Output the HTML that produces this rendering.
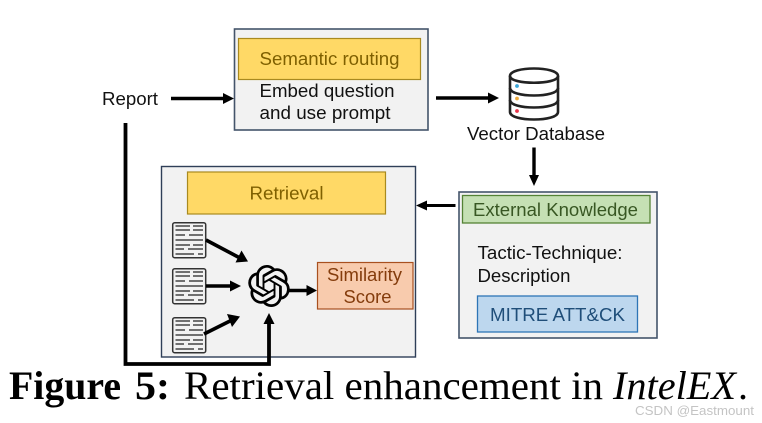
<!DOCTYPE html>
<html>
<head>
<meta charset="utf-8">
<style>
html,body{margin:0;padding:0;background:#fff;width:762px;height:423px;overflow:hidden}
svg{display:block;filter:blur(.3px)}
text{font-family:"Liberation Sans",sans-serif;font-size:18px;fill:#111}
.cap{font-family:"Liberation Serif",serif;font-size:40px;fill:#000}
</style>
</head>
<body>
<svg width="762" height="423" viewBox="0 0 762 423" xmlns="http://www.w3.org/2000/svg">
<defs>
<g id="doc">
<rect x="0.7" y="0.7" width="33" height="35" rx="2" fill="#f2f2f2" stroke="#333" stroke-width="1.5"/>
<g stroke="#444" stroke-width="1.6" fill="none">
<path d="M3.500 4H18M21 4H31M3.500 8H18M21 8H31M3.500 13H13M17 13H31M3.500 18H31M3.500 23H18M21 23H31M3.500 27H12M16 27H31M3.500 32H22M26 32H31"/>
</g>
</g>
</defs>

<!-- top box -->
<rect x="234.500" y="29" width="193.500" height="101" fill="#f2f2f2" stroke="#44546a" stroke-width="1.600"/>
<rect x="238.500" y="38.500" width="182" height="41" fill="#ffd966" stroke="#a98a1f" stroke-width="1.200"/>
<text x="259.500" y="65" textLength="140" lengthAdjust="spacingAndGlyphs" style="fill:#7f6000">Semantic routing</text>
<text x="259.500" y="97" textLength="135" lengthAdjust="spacingAndGlyphs">Embed question</text>
<text x="259.500" y="119" textLength="131" lengthAdjust="spacingAndGlyphs">and use prompt</text>
<text x="102" y="105" textLength="56" lengthAdjust="spacingAndGlyphs">Report</text>

<!-- arrows top -->
<path d="M171 98.500H225" stroke="#000" stroke-width="3.600"/>
<path d="M223 93L234 98.500L223 104Z" fill="#000"/>
<path d="M436 98H490" stroke="#000" stroke-width="3.600"/>
<path d="M488 92.500L499 98L488 103.500Z" fill="#000"/>

<!-- database -->
<g fill="none" stroke="#222" stroke-width="2.600">
<path d="M510 76 C510 66 558 66 558 76 V112 C558 122 510 122 510 112 Z" fill="#fff"/>
<path d="M510 76 C510 85 558 85 558 76"/>
<path d="M510 88 C510 98 558 98 558 88"/>
<path d="M510 100 C510 110 558 110 558 100"/>
</g>
<circle cx="517" cy="86" r="1.900" fill="#3aa6d8"/>
<circle cx="517" cy="98.500" r="1.900" fill="#eeaa3c"/>
<circle cx="517" cy="111" r="1.900" fill="#e8344a"/>
<text x="467" y="140" textLength="138" lengthAdjust="spacingAndGlyphs">Vector Database</text>

<!-- db to external -->
<path d="M534 147.500V178" stroke="#000" stroke-width="3.400"/>
<path d="M529 175L534 186L539 175Z" fill="#000"/>

<!-- external box -->
<rect x="459" y="192" width="198" height="146" fill="#f2f2f2" stroke="#44546a" stroke-width="1.600"/>
<rect x="462.500" y="195.500" width="187.500" height="27.500" fill="#c5e0b4" stroke="#548235" stroke-width="1.300"/>
<text x="473" y="216" textLength="165" lengthAdjust="spacingAndGlyphs" style="fill:#385723">External Knowledge</text>
<text x="477.500" y="259" textLength="145" lengthAdjust="spacingAndGlyphs">Tactic-Technique:</text>
<text x="477.500" y="282" textLength="93" lengthAdjust="spacingAndGlyphs">Description</text>
<rect x="477.500" y="296" width="160" height="36" fill="#bdd7ee" stroke="#2e75b6" stroke-width="1.300"/>
<text x="490" y="321" textLength="135" lengthAdjust="spacingAndGlyphs" style="fill:#1f4e79">MITRE ATT&amp;CK</text>

<!-- external to retrieval -->
<path d="M425 205.500H455.500" stroke="#000" stroke-width="3"/>
<path d="M416 205.500L427 200.500V210.500Z" fill="#000"/>

<!-- retrieval box -->
<rect x="161.500" y="166.500" width="254" height="190.500" fill="#f2f2f2" stroke="#2f3f58" stroke-width="1.400"/>
<rect x="187.500" y="172" width="198" height="42" fill="#ffd966" stroke="#a98a1f" stroke-width="1.200"/>
<text x="249.500" y="199.500" textLength="74" lengthAdjust="spacingAndGlyphs" style="fill:#7f6000">Retrieval</text>

<!-- docs -->
<use href="#doc" x="172" y="222"/>
<use href="#doc" x="172" y="268"/>
<use href="#doc" x="172" y="317"/>

<!-- doc arrows -->
<path d="M206 240L240 258" stroke="#000" stroke-width="3.600"/>
<path d="M235.500 262.500L248 261.500L241.500 250.500Z" fill="#000"/>
<path d="M206 286H233" stroke="#000" stroke-width="3.600"/>
<path d="M230 280.500L241 286L230 291.500Z" fill="#000"/>
<path d="M204 334L232 320" stroke="#000" stroke-width="3.600"/>
<path d="M227 314L240 316.500L232 327Z" fill="#000"/>

<!-- knot icon -->
<g transform="translate(248 265) scale(1.75)">
<path fill="#000" d="M22.2819 9.8211a5.9847 5.9847 0 0 0-.5157-4.9108 6.0462 6.0462 0 0 0-6.5098-2.9A6.0651 6.0651 0 0 0 4.9807 4.1818a5.9847 5.9847 0 0 0-3.9977 2.9 6.0462 6.0462 0 0 0 .7427 7.0966 5.98 5.98 0 0 0 .511 4.9107 6.051 6.051 0 0 0 6.5146 2.9001A5.9847 5.9847 0 0 0 13.2599 24a6.0557 6.0557 0 0 0 5.7718-4.2058 5.9894 5.9894 0 0 0 3.9977-2.9001 6.0557 6.0557 0 0 0-.7475-7.0729zm-9.022 12.6081a4.4755 4.4755 0 0 1-2.8764-1.0408l.1419-.0804 4.7783-2.7582a.7948.7948 0 0 0 .3927-.6813v-6.7369l2.02 1.1686a.071.071 0 0 1 .038.052v5.5826a4.504 4.504 0 0 1-4.4945 4.4944zm-9.6607-4.1254a4.4708 4.4708 0 0 1-.5346-3.0137l.142.0852 4.783 2.7582a.7712.7712 0 0 0 .7806 0l5.8428-3.3685v2.3324a.0804.0804 0 0 1-.0332.0615L9.74 19.9502a4.4992 4.4992 0 0 1-6.1408-1.6464zM2.3408 7.8956a4.485 4.485 0 0 1 2.3655-1.9728V11.6a.7664.7664 0 0 0 .3879.6765l5.8144 3.3543-2.0201 1.1685a.0757.0757 0 0 1-.071 0l-4.8303-2.7865A4.504 4.504 0 0 1 2.3408 7.872zm16.5963 3.8558L13.1038 8.364 15.1192 7.2a.0757.0757 0 0 1 .071 0l4.8303 2.7913a4.4944 4.4944 0 0 1-.6765 8.1042v-5.6772a.79.79 0 0 0-.407-.667zm2.0107-3.0231l-.142-.0852-4.7735-2.7818a.7759.7759 0 0 0-.7854 0L9.409 9.2297V6.8974a.0662.0662 0 0 1 .0284-.0615l4.8303-2.7866a4.4992 4.4992 0 0 1 6.6802 4.66zM8.3065 12.863l-2.02-1.1638a.0804.0804 0 0 1-.038-.0567V6.0742a4.4992 4.4992 0 0 1 7.3757-3.4537l-.142.0805L8.704 5.459a.7948.7948 0 0 0-.3927.6813zm1.0976-2.3654l2.602-1.4998 2.6069 1.4998v2.9994l-2.5974 1.4997-2.6067-1.4997Z"/>
</g>

<!-- knot to similarity -->
<path d="M289 290.500H309" stroke="#000" stroke-width="3.400"/>
<path d="M306.500 285L317 290.500L306.500 296Z" fill="#000"/>

<!-- similarity -->
<rect x="317.500" y="262.500" width="95.500" height="46.500" fill="#f8cbad" stroke="#a8501f" stroke-width="1.200"/>
<text x="327" y="281" textLength="75" lengthAdjust="spacingAndGlyphs" style="fill:#843c0c">Similarity</text>
<text x="343.500" y="303" textLength="48" lengthAdjust="spacingAndGlyphs" style="fill:#843c0c">Score</text>

<!-- report loop -->
<path d="M125.500 123V364H269V322" fill="none" stroke="#000" stroke-width="3.800"/>
<path d="M263.500 324L269 313L274.500 324Z" fill="#000"/>

<!-- caption -->
<text class="cap" x="9" y="399" textLength="112" lengthAdjust="spacingAndGlyphs" style="font-weight:bold">Figure</text>
<text class="cap" x="135" y="399" textLength="35" lengthAdjust="spacingAndGlyphs" style="font-weight:bold">5:</text>
<text class="cap" x="184" y="399" textLength="419" lengthAdjust="spacingAndGlyphs">Retrieval enhancement in</text>
<text class="cap" x="613" y="399" textLength="123" lengthAdjust="spacingAndGlyphs" style="font-style:italic">IntelEX</text>
<text class="cap" x="738" y="399">.</text>

<!-- watermark -->
<text x="635" y="415" textLength="119" lengthAdjust="spacingAndGlyphs" style="font-size:13px;fill:#c4c4c4">CSDN @Eastmount</text>
</svg>
</body>
</html>
